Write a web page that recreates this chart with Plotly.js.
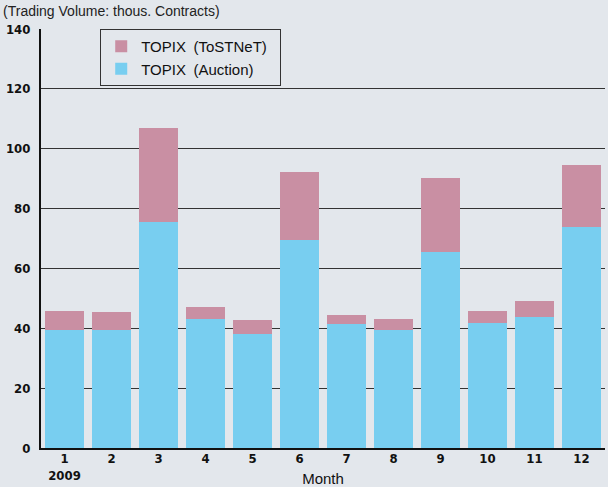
<!DOCTYPE html>
<html>
<head>
<meta charset="utf-8">
<script src="https://cdn.plot.ly/plotly-3.0.1.min.js"></script>
<style>
html,body{margin:0;padding:0;background:#e3e7ec;}
#chart{width:608px;height:487px;}
</style>
</head>
<body>
<div id="chart"></div>
<script>
const months = ["1","2","3","4","5","6","7","8","9","10","11","12"];
const monthLabels = ["1<br>2009","2","3","4","5","6","7","8","9","10","11","12"];
const auction = [39.4, 39.4, 75.5, 43.1, 38.2, 69.6, 41.4, 39.4, 65.5, 41.8, 43.8, 73.8];
const totals  = [45.8, 45.4, 106.9, 47.1, 42.8, 92.2, 44.4, 43.1, 90.2, 45.8, 49.1, 94.6];
const tostnet = totals.map((t, i) => +(t - auction[i]).toFixed(1));
const yTicks = [0, 20, 40, 60, 80, 100, 120, 140];

const tickFont = {family: '"Liberation Sans Narrow", "DejaVu Sans Condensed", "Liberation Sans", sans-serif', size: 13, color: '#111', weight: 'bold'};
const textFamily = '"Liberation Sans", Arial, sans-serif';

const data = [
  {type: 'bar', name: 'TOPIX\u2002(Auction)', x: months, y: auction,
   marker: {color: '#78cef0', line: {width: 0}}},
  {type: 'bar', name: 'TOPIX\u2002(ToSTNeT)\u2002', x: months, y: tostnet,
   marker: {color: '#c98fa3', line: {width: 0}}}
];

const layout = {
  width: 608, height: 487,
  paper_bgcolor: '#e3e7ec', plot_bgcolor: '#e3e7ec',
  margin: {l: 41, r: 3, t: 29, b: 39, pad: 0},
  barmode: 'stack', bargap: 0.15,
  showlegend: true,
  legend: {x: 0.105, y: 1, xanchor: 'left', yanchor: 'top',
    bgcolor: '#e3e7ec', bordercolor: '#333', borderwidth: 1,
    font: {family: textFamily, size: 15, color: '#111'},
    itemwidth: 30, traceorder: 'reversed', tracegroupgap: 0},
  title: {text: '(Trading Volume: thous. Contracts)', x: 0.005, xanchor: 'left', xref: 'container',
    y: 0.978, yanchor: 'middle', yref: 'container',
    font: {family: textFamily, size: 14, color: '#222'}},
  xaxis: {type: 'category', tickvals: months, ticktext: monthLabels,
    showline: true, linecolor: '#111', linewidth: 2, ticks: '', showgrid: false,
    tickfont: tickFont, range: [-0.5, 11.5], ticklabelstandoff: -3,
    title: {text: 'Month', standoff: 0,
      font: {family: textFamily, size: 15, color: '#111'}}},
  yaxis: {range: [0, 140], tickvals: yTicks, showline: true, linecolor: '#111', linewidth: 2,
    showgrid: true, gridcolor: '#333', gridwidth: 1, zeroline: false, ticks: '',
    tickfont: tickFont, ticklabelstandoff: 6}
};

Plotly.newPlot('chart', data, layout, {displayModeBar: false, staticPlot: true});
</script>
</body>
</html>
